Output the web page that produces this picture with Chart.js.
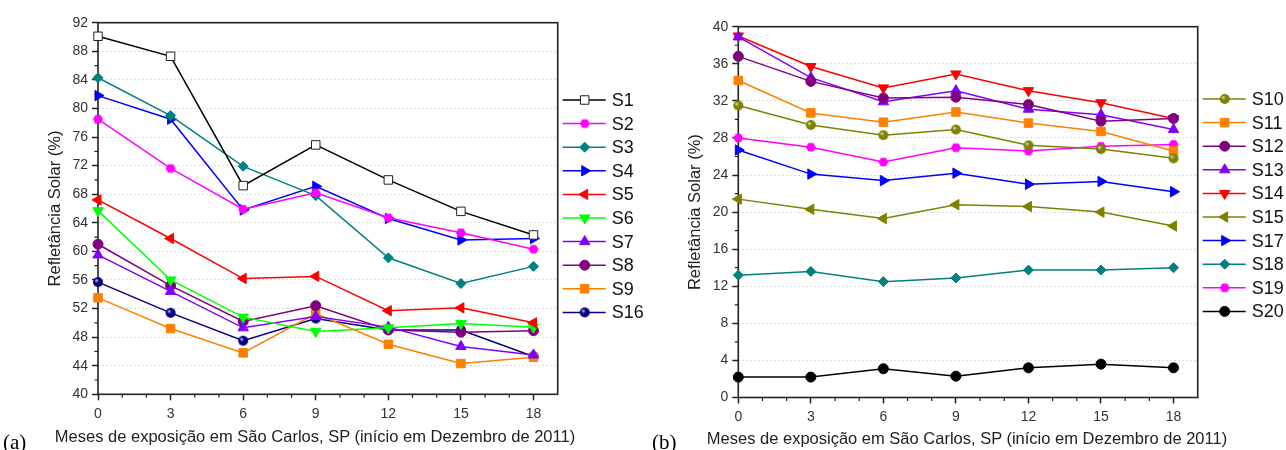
<!DOCTYPE html>
<html>
<head>
<meta charset="utf-8">
<script src="https://cdn.jsdelivr.net/npm/chart.js@4.4.1/dist/chart.umd.min.js"></script>
<style>
  body { margin: 0; background: #fff; overflow: hidden; }
  #wrap { position: relative; width: 1286px; height: 450px; }
  canvas { position: absolute; top: 0; }
  .xt { position: absolute; font: 16.5px "Liberation Sans", Arial, sans-serif; color: #222; white-space: nowrap; transform: translateX(-50%); }
  .tag { position: absolute; font: 21px "Liberation Serif", "Times New Roman", serif; color: #000; line-height: 21px; }
</style>
</head>
<body>
<div id="wrap">
  <canvas id="chartA" width="650" height="450" style="left:0"></canvas>
  <canvas id="chartB" width="641" height="450" style="left:645px"></canvas>
  <div class="xt" style="left:315px; top:427px">Meses de exposição em São Carlos, SP (início em Dezembro de 2011)</div>
  <div class="xt" style="left:967px; top:429px">Meses de exposição em São Carlos, SP (início em Dezembro de 2011)</div>
  <div class="tag" style="left:3px; top:432px">(a)</div>
  <div class="tag" style="left:652px; top:432px">(b)</div>
</div>
<script>
// months of exposure
const months = [0, 3, 6, 9, 12, 15, 18];

// chart (a)
const s1 = [90.1, 87.3, 69.2, 74.9, 70.0, 65.6, 62.3];
const s2 = [78.5, 71.6, 65.9, 68.2, 64.7, 62.6, 60.3];
const s3 = [84.3, 79.0, 71.9, 67.8, 59.1, 55.5, 57.9];
const s4 = [81.8, 78.5, 65.8, 69.1, 64.6, 61.6, 61.8];
const s5 = [67.2, 61.8, 56.2, 56.5, 51.7, 52.1, 50.0];
const s6 = [65.7, 56.0, 50.8, 48.8, 49.3, 49.9, 49.4];
const s7 = [59.5, 54.4, 49.3, 50.9, 49.4, 46.7, 45.5];
const s8 = [61.0, 55.2, 50.2, 52.4, 49.0, 48.7, 48.9];
const s9 = [53.5, 49.2, 45.8, 51.3, 47.0, 44.3, 45.2];
const s16 = [55.7, 51.4, 47.5, 50.6, 49.0, 49.0, 45.3];

// chart (b)
const s10 = [31.5, 29.4, 28.3, 28.9, 27.2, 26.8, 25.8];
const s11 = [34.2, 30.7, 29.7, 30.8, 29.6, 28.7, 26.6];
const s12 = [36.8, 34.1, 32.3, 32.4, 31.6, 29.8, 30.1];
const s13 = [38.9, 34.5, 31.9, 33.1, 31.1, 30.5, 28.9];
const s14 = [39.0, 35.7, 33.4, 34.9, 33.1, 31.8, 30.1];
const s15 = [21.4, 20.3, 19.3, 20.8, 20.6, 20.0, 18.5];
const s17 = [26.7, 24.1, 23.4, 24.2, 23.0, 23.3, 22.2];
const s18 = [13.2, 13.6, 12.5, 12.9, 13.75, 13.75, 14.0];
const s19 = [28.0, 27.0, 25.4, 26.95, 26.6, 27.1, 27.3];
const s20 = [2.2, 2.2, 3.1, 2.3, 3.2, 3.6, 3.2];

const yTicksA = { min: 40, max: 92, step: 4 };
const yTicksB = { min: 0, max: 40, step: 4 };

const FONT = '"Liberation Sans", Arial, sans-serif';

// hexagon marker (no built-in one in Chart.js)
function hexMarker(color, r) {
  const c = document.createElement('canvas');
  c.width = c.height = 2 * r + 2;
  const g = c.getContext('2d');
  g.fillStyle = color;
  g.beginPath();
  for (let k = 0; k < 6; k++) {
    const a = Math.PI / 3 * k;
    g.lineTo(r + 1 + r * Math.cos(a), r + 1 + r * Math.sin(a));
  }
  g.closePath();
  g.fill();
  return c;
}

// shaded ball marker
function ballMarker(color, r) {
  const c = document.createElement('canvas');
  c.width = c.height = 2 * r + 2;
  const g = c.getContext('2d');
  const grad = g.createRadialGradient(r - r * 0.2, r - r * 0.2, 0, r + 1, r + 1, r);
  grad.addColorStop(0, '#e8e8e8');
  grad.addColorStop(0.45, color);
  grad.addColorStop(1, color);
  g.fillStyle = grad;
  g.beginPath();
  g.arc(r + 1, r + 1, r, 0, Math.PI * 2);
  g.fill();
  return c;
}

function series(label, values, color, style, extra) {
  return Object.assign({
    label: label,
    data: months.map((m, i) => ({ x: m, y: values[i] })),
    borderColor: color,
    borderWidth: 1.5,
    backgroundColor: color,
    pointBackgroundColor: color,
    pointBorderColor: color,
    pointBorderWidth: 1,
    pointStyle: style,
    pointRadius: 5,
    pointRotation: 0,
    clip: false
  }, extra || {});
}

// frame, minor ticks and line+marker legend
function framePlugin(legendTop) {
  return {
    id: 'frame',
    beforeDatasetsDraw(chart) {
      const { ctx, chartArea: a, scales: { x, y } } = chart;
      ctx.save();
      ctx.strokeStyle = '#222';
      ctx.lineWidth = 1.2;
      ctx.beginPath();
      for (let v = 0; v <= 18; v++) {
        if (v % 3 === 0) continue;
        const px = x.getPixelForValue(v);
        ctx.moveTo(px, a.bottom);
        ctx.lineTo(px, a.bottom + 3.5);
      }
      for (let v = y.min + 2; v < y.max; v += 4) {
        const py = y.getPixelForValue(v);
        ctx.moveTo(a.left, py);
        ctx.lineTo(a.left - 3.5, py);
      }
      ctx.stroke();
      ctx.lineWidth = 1.6;
      ctx.strokeRect(a.left, a.top, a.right - a.left, a.bottom - a.top);
      ctx.restore();
    },
    afterDraw(chart) {
      const { ctx, chartArea: a } = chart;
      const x0 = a.right + 5;
      ctx.save();
      ctx.font = '18px ' + FONT;
      ctx.textBaseline = 'middle';
      chart.data.datasets.forEach((ds, i) => {
        const yy = legendTop + i * 23.6;
        ctx.strokeStyle = ds.borderColor;
        ctx.lineWidth = 1.5;
        ctx.beginPath();
        ctx.moveTo(x0, yy);
        ctx.lineTo(x0 + 43, yy);
        ctx.stroke();
        ctx.fillStyle = ds.pointBackgroundColor;
        ctx.strokeStyle = ds.pointBorderColor;
        ctx.lineWidth = ds.pointBorderWidth;
        Chart.helpers.drawPoint(ctx, {
          pointStyle: ds.pointStyle,
          rotation: ds.pointRotation,
          radius: ds.pointRadius,
          borderWidth: ds.pointBorderWidth
        }, x0 + 22, yy);
        ctx.fillStyle = '#111';
        ctx.fillText(ds.label, x0 + 49, yy + 1);
      });
      ctx.restore();
    }
  };
}

function makeOptions(yt, pad, yWidth) {
  return {
    responsive: false,
    animation: false,
    layout: { padding: pad },
    plugins: {
      legend: { display: false },
      tooltip: { enabled: false }
    },
    scales: {
      x: {
        type: 'linear',
        min: 0,
        max: 19,
        afterFit: s => { s.height = 30; },
        border: { display: false },
        grid: { drawOnChartArea: false, tickLength: 6, tickColor: '#222', tickWidth: 1.5 },
        ticks: {
          stepSize: 3,
          includeBounds: false,
          padding: 5,
          color: '#333',
          font: { family: FONT, size: 14 }
        }
      },
      y: {
        min: yt.min,
        max: yt.max,
        afterFit: s => { s.width = yWidth; },
        border: { display: false, dash: [2, 2] },
        grid: { color: '#dedede', lineWidth: 1, tickLength: 6, tickColor: '#222', tickWidth: 1.5 },
        ticks: {
          stepSize: yt.step,
          includeBounds: false,
          padding: 4,
          color: '#333',
          font: { family: FONT, size: 14 }
        },
        title: {
          display: true,
          text: 'Refletância Solar (%)',
          color: '#222',
          font: { family: FONT, size: 16.5 }
        }
      }
    }
  };
}

const WHITE = '#ffffff';

new Chart(document.getElementById('chartA'), {
  type: 'line',
  data: {
    datasets: [
      series('S1', s1, '#000000', 'rect', { pointBackgroundColor: WHITE, pointBorderColor: '#222', pointRadius: 6 }),
      series('S2', s2, '#ff00ff', hexMarker('#ff00ff', 5)),
      series('S3', s3, '#008080', 'rectRot'),
      series('S4', s4, '#0000ff', 'triangle', { pointRotation: 90, pointRadius: 6 }),
      series('S5', s5, '#ff0000', 'triangle', { pointRotation: -90, pointRadius: 6 }),
      series('S6', s6, '#00ff00', 'triangle', { pointRotation: 180, pointRadius: 6 }),
      series('S7', s7, '#8000ff', 'triangle', { pointRadius: 6 }),
      series('S8', s8, '#800080', 'circle'),
      series('S9', s9, '#ff8000', 'rect', { pointRadius: 6 }),
      series('S16', s16, '#000080', ballMarker('#000080', 5))
    ]
  },
  options: makeOptions(yTicksA, { left: 42, top: 22.7, right: 92.3, bottom: 25.7 }, 56),
  plugins: [framePlugin(100)]
});

new Chart(document.getElementById('chartB'), {
  type: 'line',
  data: {
    datasets: [
      series('S10', s10, '#808000', ballMarker('#808000', 5)),
      series('S11', s11, '#ff8000', 'rect', { pointRadius: 6 }),
      series('S12', s12, '#800080', 'circle'),
      series('S13', s13, '#8000ff', 'triangle', { pointRadius: 6 }),
      series('S14', s14, '#ff0000', 'triangle', { pointRotation: 180, pointRadius: 6 }),
      series('S15', s15, '#808000', 'triangle', { pointRotation: -90, pointRadius: 6 }),
      series('S17', s17, '#0000ff', 'triangle', { pointRotation: 90, pointRadius: 6 }),
      series('S18', s18, '#008080', 'rectRot'),
      series('S19', s19, '#ff00ff', hexMarker('#ff00ff', 5)),
      series('S20', s20, '#000000', 'circle')
    ]
  },
  options: makeOptions(yTicksB, { left: 37, top: 26.7, right: 88.3, bottom: 22.5 }, 56.3),
  plugins: [framePlugin(99)]
});
</script>
</body>
</html>
